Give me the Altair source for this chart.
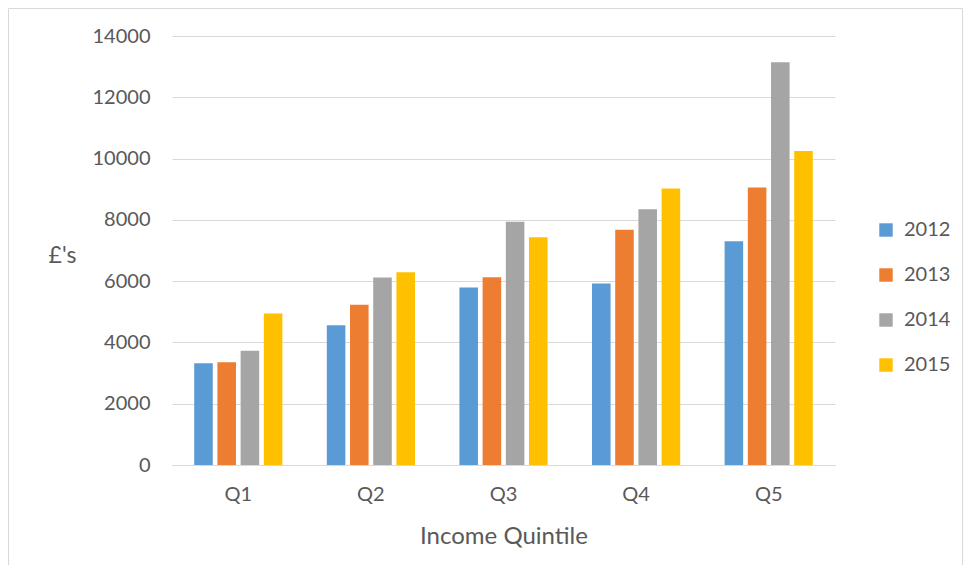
import altair as alt
import pandas as pd

quintiles = ["Q1", "Q2", "Q3", "Q4", "Q5"]
years = ["2012", "2013", "2014", "2015"]
v2012 = [3320, 4560, 5790, 5920, 7300]
v2013 = [3350, 5230, 6130, 7680, 9060]
v2014 = [3730, 6120, 7940, 8350, 13140]
v2015 = [4940, 6290, 7430, 9020, 10250]
colors = ["#5B9BD5", "#ED7D31", "#A5A5A5", "#FFC000"]

rows = []
for y, vals in zip(years, [v2012, v2013, v2014, v2015]):
    for q, v in zip(quintiles, vals):
        rows.append({"Quintile": q, "Year": y, "Value": v})
df = pd.DataFrame(rows)

FONT = "Lato"
TXT = "#595959"

bars = alt.Chart(df).mark_bar().encode(
    x=alt.X("Quintile:N", sort=quintiles,
            scale=alt.Scale(paddingInner=0.3, paddingOuter=0.15),
            axis=alt.Axis(title="Income Quintile", labelAngle=0, ticks=False,
                          domainColor="#d9d9d9", labelPadding=19, labelFontSize=20,
                          titleFontSize=24, titleFontWeight="normal", titlePadding=20,
                          labelColor=TXT, titleColor=TXT, labelFont=FONT, titleFont=FONT)),
    xOffset=alt.XOffset("Year:N", sort=years,
                        scale=alt.Scale(paddingInner=0.2, paddingOuter=0.1)),
    y=alt.Y("Value:Q", scale=alt.Scale(domain=[0, 14000]),
            axis=alt.Axis(title="£'s", values=list(range(0, 14001, 2000)), format="d",
                          ticks=False, domain=False, gridColor="#d9d9d9", labelPadding=22,
                          labelFontSize=20, labelColor=TXT, labelFont=FONT,
                          titleAngle=0, titleX=-110, titleY=219, titleAlign="center",
                          titleBaseline="middle", titleFontSize=23,
                          titleFontWeight="normal", titleColor=TXT, titleFont=FONT)),
    color=alt.Color("Year:N", sort=years, scale=alt.Scale(domain=years, range=colors),
                    legend=alt.Legend(title=None, orient="none", legendX=704, legendY=184,
                                      symbolType="square", symbolSize=180,
                                      symbolStrokeWidth=0, labelFontSize=20,
                                      labelColor=TXT, labelFont=FONT, rowPadding=25,
                                      labelOffset=8)),
)

border = alt.Chart(pd.DataFrame({"a": [0]})).mark_rect(
    fill=None, stroke="#d9d9d9", strokeWidth=1
).encode(x=alt.value(-163.5), x2=alt.value(790.5), y=alt.value(-27.5), y2=alt.value(538.5))

chart = alt.layer(border, bars).properties(
    width=663, height=429,
    padding={"left": 164, "top": 28, "right": 130, "bottom": 100},
    autosize=alt.AutoSizeParams(type="none"),
).configure(background="white").configure_view(strokeWidth=0, stroke=None)

chart.save("out.html", embed_options={"renderer": "svg", "actions": False})
